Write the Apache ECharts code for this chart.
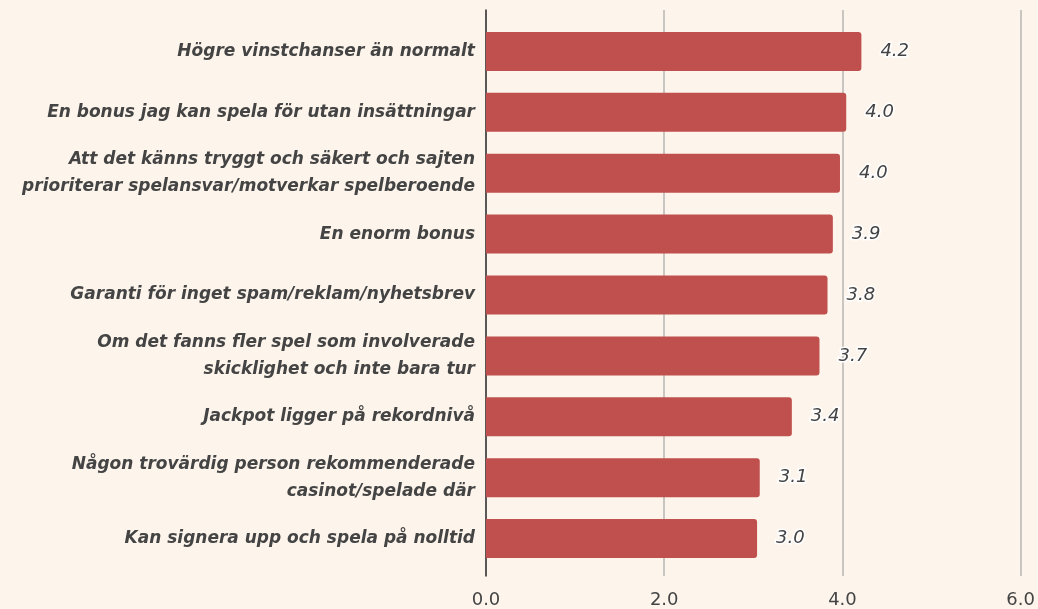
<!DOCTYPE html>
<html><head><meta charset="utf-8">
<script src="https://cdn.jsdelivr.net/npm/echarts@6/dist/echarts.min.js"></script>
<style>html,body{margin:0;padding:0;background:#fdf5ec;}#c{width:1038px;height:609px;}</style>
</head><body><div id="c"></div>
<script>
const categories = [
  "Högre vinstchanser än normalt",
  "En bonus jag kan spela för utan insättningar",
  "Att det känns tryggt och säkert och sajten\nprioriterar spelansvar/motverkar spelberoende",
  "En enorm bonus",
  "Garanti för inget spam/reklam/nyhetsbrev",
  "Om det fanns fler spel som involverade\nskicklighet och inte bara tur",
  "Jackpot ligger på rekordnivå",
  "Någon trovärdig person rekommenderade\ncasinot/spelade där",
  "Kan signera upp och spela på nolltid"
];
const values = [4.21, 4.04, 3.97, 3.89, 3.83, 3.74, 3.43, 3.07, 3.04];
const xTicks = [0, 2, 4, 6];

const chart = echarts.init(document.getElementById('c'));
const font = "'DejaVu Sans', sans-serif";
chart.setOption({
  backgroundColor: '#fdf5ec',
  animation: false,
  grid: [
    {left: 486, right: 17, top: 21, bottom: 40},
    {left: 486, right: 17, top: 10, bottom: 33}
  ],
  xAxis: [
    {gridIndex: 0, type: 'value', min: xTicks[0], max: xTicks[xTicks.length-1], interval: 2,
     axisLabel: {show: false}, splitLine: {show: false}, axisLine: {show: false}, axisTick: {show: false}},
    {gridIndex: 1, type: 'value', min: xTicks[0], max: xTicks[xTicks.length-1], interval: 2,
     axisLine: {show: false}, axisTick: {show: false},
     splitLine: {show: true, lineStyle: {color: '#c9c6c2', width: 2}},
     axisLabel: {color: '#444', fontSize: 18, fontFamily: font, margin: 15,
       formatter: v => v.toFixed(1)}}
  ],
  yAxis: [
    {gridIndex: 0, type: 'category', data: categories, inverse: true,
     axisLine: {show: false}, axisTick: {show: false},
     axisLabel: {color: '#444', fontSize: 17, fontWeight: 'bold', fontStyle: 'italic',
       fontFamily: font, margin: 11, lineHeight: 27, align: 'right'}},
    {gridIndex: 1, type: 'value', min: 0, max: 1,
     axisLine: {show: true, lineStyle: {color: '#333', width: 1.5}},
     axisTick: {show: false}, axisLabel: {show: false}, splitLine: {show: false}}
  ],
  series: [{
    type: 'bar', xAxisIndex: 0, yAxisIndex: 0, data: values, barWidth: 39,
    itemStyle: {color: '#c0504d', borderRadius: [0, 3, 3, 0]},
    label: {show: true, position: 'right', distance: 19, color: '#444', fontSize: 18,
      fontStyle: 'italic', fontFamily: font, textBorderColor: '#fff', textBorderWidth: 3,
      formatter: p => p.value.toFixed(1)}
  }]
});
</script></body></html>
